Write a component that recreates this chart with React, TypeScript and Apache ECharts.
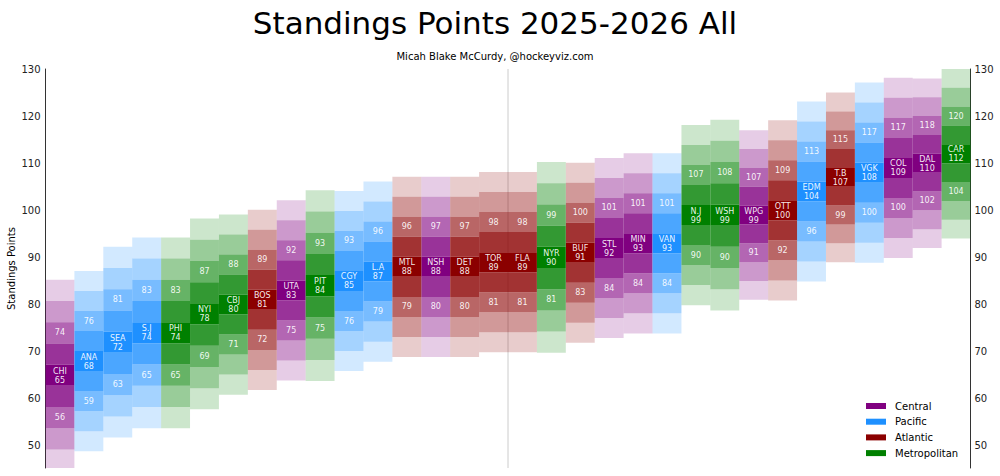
import React, { useEffect, useRef } from "react";
import * as echarts from "echarts";

const teams = ["CHI","ANA","SEA","S.J","PHI","NYI","CBJ","BOS","UTA","PIT","CGY","L.A","MTL","NSH","DET","TOR","FLA","NYR","BUF","STL","MIN","VAN","N.J","WSH","WPG","OTT","EDM","T.B","VGK","COL","DAL","CAR"];
const divisionOf = ["Central","Pacific","Pacific","Pacific","Metropolitan","Metropolitan","Metropolitan","Atlantic","Central","Metropolitan","Pacific","Pacific","Atlantic","Central","Atlantic","Atlantic","Atlantic","Metropolitan","Atlantic","Central","Central","Pacific","Metropolitan","Metropolitan","Central","Atlantic","Pacific","Atlantic","Pacific","Central","Central","Metropolitan"];
const medians = [65,68,72,74,74,78,80,81,83,84,85,87,88,88,88,89,89,90,91,92,93,93,99,99,99,100,104,107,108,109,110,112];
const highs = [74,76,81,83,83,87,88,89,92,93,93,96,96,97,97,98,98,99,100,101,101,101,107,108,107,109,113,115,117,117,118,120];
const lows = [56,59,63,65,65,69,71,72,75,75,76,79,79,80,80,81,81,81,83,84,84,84,90,90,91,92,96,99,100,100,102,104];

const divisions = ["Central", "Pacific", "Atlantic", "Metropolitan"];
const divisionColors: Record<string, number[]> = {
  Central: [128, 0, 128],
  Pacific: [30, 144, 255],
  Atlantic: [139, 0, 0],
  Metropolitan: [0, 128, 0],
};
const bandAlphas = [1, 0.8, 0.6, 0.4, 0.2];
const yTicks = [50, 60, 70, 80, 90, 100, 110, 120, 130];

const Y_MIN = 45.3;
const Y_MAX = 130;
const FONT = "DejaVu Sans";

function rgba(c: number[], a: number) {
  return `rgba(${c[0]},${c[1]},${c[2]},${a})`;
}

export default function App() {
  const ref = useRef<HTMLDivElement>(null);
  useEffect(() => {
    document.body.style.margin = "0";
    if (!ref.current) return;
    const chart = echarts.init(ref.current, undefined, { renderer: "svg" });

    const series: any[] = divisions.map((div) => {
      const col = divisionColors[div];
      const data: number[][] = [];
      teams.forEach((t, i) => {
        if (divisionOf[i] === div) data.push([i, medians[i], lows[i], highs[i]]);
      });
      return {
        type: "custom",
        name: div,
        clip: true,
        z: 3,
        itemStyle: { color: rgba(col, 1) },
        data,
        renderItem: (params: any, api: any) => {
          const i = api.value(0);
          const m = api.value(1);
          const lo = api.value(2);
          const hi = api.value(3);
          const s = (hi - lo) / 4;
          const x0 = api.coord([i, m])[0];
          const x1 = api.coord([i + 1, m])[0];
          const xc = (x0 + x1) / 2;
          const children: any[] = [];
          for (let k = -4; k <= 4; k++) {
            const yTop = api.coord([i, m + (k + 0.5) * s])[1];
            const yBot = api.coord([i, m + (k - 0.5) * s])[1];
            children.push({
              type: "rect",
              shape: { x: x0, y: yTop, width: x1 - x0, height: yBot - yTop },
              style: { fill: rgba(col, bandAlphas[Math.abs(k)]) },
            });
          }
          const yc = api.coord([i, m])[1];
          const yh = api.coord([i, m + 2 * s])[1];
          const yl = api.coord([i, m - 2 * s])[1];
          const txt = (text: string, y: number) => ({
            type: "text",
            x: xc,
            y,
            style: {
              text,
              fill: "#ffffff",
              fontSize: 8,
              fontFamily: FONT,
              lineHeight: 9,
              align: "center",
              verticalAlign: "middle",
              opacity: 0.92,
            },
          });
          children.push(txt(`${teams[i]}\n${m}`, yc + 0.5));
          children.push(txt(`${hi}`, yh));
          children.push(txt(`${lo}`, yl));
          return { type: "group", children };
        },
      };
    });

    series.push({
      type: "line",
      name: "mid",
      z: 1,
      silent: true,
      symbol: "none",
      lineStyle: { color: "#cccccc", width: 1 },
      data: [[16, Y_MIN], [16, Y_MAX]],
    });

    const yAxisCommon = {
      type: "value",
      min: Y_MIN,
      max: Y_MAX,
      minInterval: 10,
      maxInterval: 10,
      splitLine: { show: false },
      axisTick: { show: false },
      axisLine: { show: true, lineStyle: { color: "#333", width: 1 } },
      axisLabel: {
        color: "#222",
        fontSize: 10,
        fontFamily: FONT,
        showMinLabel: false,
        formatter: (v: number) => (yTicks.indexOf(Math.round(v * 1000) / 1000) >= 0 ? String(v) : ""),
      },
    };

    chart.setOption({
      animation: false,
      title: [
        {
          text: "Standings Points 2025-2026 All",
          left: 490,
          top: 2,
          textAlign: "center",
          textStyle: { fontSize: 31, fontWeight: "normal", fontFamily: FONT, color: "#000" },
        },
        {
          text: "Micah Blake McCurdy, @hockeyviz.com",
          left: 490,
          top: 46,
          textAlign: "center",
          textStyle: { fontSize: 10, fontWeight: "normal", fontFamily: FONT, color: "#000" },
        },
      ],
      grid: { left: 45.5, right: 29.5, top: 69, bottom: 8, outerBoundsMode: "none", containLabel: false },
      xAxis: { type: "value", min: 0, max: 32, show: false },
      yAxis: [
        {
          ...yAxisCommon,
          position: "left",
          name: "Standings Points",
          nameLocation: "middle",
          nameGap: 29,
          nameMoveOverlap: false,
          nameRotate: 90,
          nameTextStyle: { fontSize: 10, fontFamily: FONT, color: "#000" },
          axisLabel: { ...yAxisCommon.axisLabel, margin: 5 },
        },
        {
          ...yAxisCommon,
          position: "right",
          axisLabel: { ...yAxisCommon.axisLabel, margin: 4 },
        },
      ],
      legend: {
        data: divisions,
        orient: "vertical",
        left: 866,
        top: 400,
        padding: 0,
        icon: "rect",
        itemWidth: 20,
        itemHeight: 6,
        itemGap: 3.7,
        selectedMode: false,
        textStyle: { fontSize: 10, fontFamily: FONT, color: "#000", lineHeight: 12, padding: [0, 0, 0, 4] },
      },
      series,
    });
    return () => chart.dispose();
  }, []);
  return <div ref={ref} style={{ width: 1000, height: 476 }} />;
}
